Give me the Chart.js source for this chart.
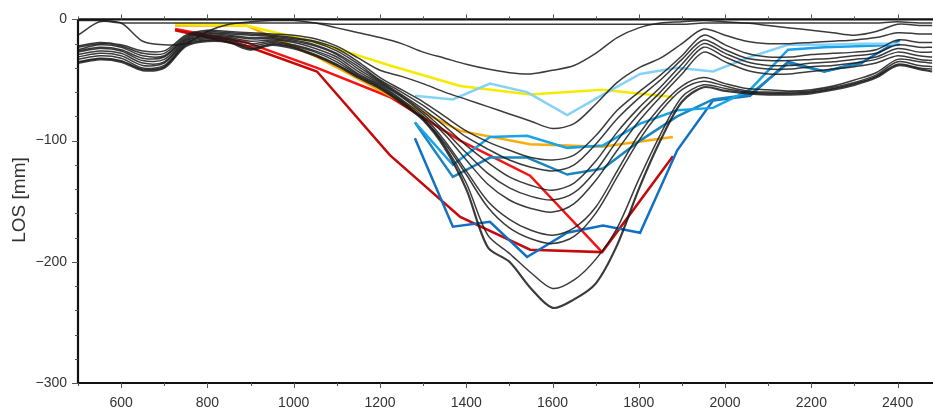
<!DOCTYPE html>
<html><head><meta charset="utf-8">
<script src="https://cdn.jsdelivr.net/npm/chart.js@4/dist/chart.umd.min.js"></script>
<style>html,body{margin:0;padding:0;background:#fff;}canvas{display:block;}</style>
</head><body>
<canvas id="c" width="933" height="408"></canvas>
<script>
// profile distance positions for the black (time-series) profiles
const profileX = [500,550,600,650,700,750,800,850,900,950,1000,1050,1100,1150,1200,1250,1300,1350,1400,1450,1500,1550,1600,1650,1700,1750,1800,1850,1900,1950,2000,2050,2100,2150,2200,2250,2300,2350,2400,2450,2480];
const L1  = [-13,-2,-3,-3,-3,-3,-3,-3,-3,-3,-3,-3,-4,-4,-4,-4,-4,-4,-4,-4,-4,-4,-4,-4,-4,-4,-4,-4,-4,-3,-3,-3,-3,-3,-3,-3,-3,-3,-2,-3,-3];
const L2  = [-1,-1,-3,-18,-21,-20,-10,-4,-2,-1,-1,-3,-7,-11,-15,-20,-27,-32,-37,-41,-44,-45,-42,-38,-28,-15,-7,-3,-2,-1,-2,-3,-5,-7,-9,-11,-13,-10,-4,-5,-5];
const L3  = [-22,-19,-21,-26,-26,-13,-9,-10,-11,-12,-13,-16,-22,-32,-42,-47,-53,-60,-66,-72,-78,-84,-90,-86,-70,-52,-40,-32,-20,-8,-13,-18,-20,-20,-19,-18,-17,-15,-11,-12,-12];
const L4  = [-23,-20,-22,-28,-28,-14,-10,-11,-12,-13,-15,-18,-24,-35,-48,-58,-68,-80,-92,-101,-108,-114,-116,-112,-96,-75,-60,-46,-30,-13,-21,-28,-31,-31,-29,-28,-27,-25,-17,-19,-19];
const L5  = [-25,-21,-23,-30,-30,-15,-11,-12,-13,-14,-16,-19,-26,-37,-50,-60,-71,-84,-97,-107,-116,-122,-125,-120,-103,-82,-65,-50,-33,-17,-25,-32,-34,-34,-33,-32,-30,-28,-21,-23,-23];
const L6  = [-26,-23,-25,-32,-31,-16,-12,-13,-15,-15,-17,-21,-28,-39,-51,-62,-74,-88,-104,-118,-130,-137,-141,-135,-117,-93,-73,-56,-37,-20,-28,-35,-38,-38,-36,-35,-33,-31,-24,-27,-27];
const L7  = [-27,-24,-26,-34,-33,-17,-13,-14,-16,-16,-18,-22,-29,-41,-52,-63,-76,-92,-110,-127,-139,-146,-149,-143,-125,-100,-78,-60,-41,-23,-31,-38,-41,-41,-39,-38,-36,-33,-27,-30,-31];
const L8  = [-29,-26,-28,-36,-35,-18,-14,-15,-18,-17,-19,-24,-31,-43,-53,-64,-78,-95,-116,-136,-149,-156,-159,-152,-133,-108,-84,-64,-45,-27,-35,-42,-45,-45,-43,-41,-39,-36,-30,-33,-34];
const L9  = [-31,-28,-30,-38,-36,-19,-15,-16,-20,-18,-21,-26,-33,-45,-54,-66,-80,-100,-125,-150,-165,-174,-178,-172,-155,-125,-95,-72,-55,-48,-53,-57,-58,-59,-58,-55,-50,-44,-33,-35,-36];
const L10 = [-33,-30,-32,-40,-38,-20,-16,-17,-22,-19,-22,-27,-35,-46,-55,-67,-82,-102,-128,-155,-172,-181,-185,-179,-160,-130,-100,-76,-58,-51,-55,-59,-60,-60,-59,-56,-52,-46,-35,-38,-39];
const L11 = [-35,-32,-34,-41,-39,-21,-17,-18,-24,-20,-23,-29,-37,-47,-56,-68,-82,-104,-135,-178,-193,-209,-222,-215,-198,-172,-132,-95,-64,-54,-57,-60,-61,-61,-60,-57,-53,-47,-37,-40,-41];
const L12 = [-36,-33,-35,-42,-40,-22,-18,-19,-25,-21,-24,-30,-38,-48,-57,-69,-83,-106,-140,-188,-200,-222,-238,-231,-218,-186,-140,-100,-68,-56,-59,-61,-62,-62,-61,-58,-54,-48,-38,-41,-43];

// coloured profiles (sparser sampling)
const warmX     = [725,890,1054,1223,1386,1548,1715,1879];
const yellowY   = [-4,-5,-19,-38,-55,-62,-58,-64];
const orangeY   = [-5,-5,-31,-63,-92,-103,-105,-97];
const redX      = [725,890,1054,1223,1386,1548,1715];
const redY      = [-8,-19,-40,-64,-100,-129,-192];
const darkRedY  = [-9,-22,-43,-112,-163,-190,-192,-113];
const blueX     = [1281,1369,1455,1541,1634,1717,1803,1889,1972,2058,2146,2230,2320,2405];
const skyY      = [-63,-66,-53,-60,-79,-62,-45,-40,-43,-31,-21,-21,-20,-20];
const brightY   = [-85,-120,-97,-96,-106,-104,-86,-75,-73,-58,-25,-23,-22,-21];
const tealX     = [1281,1369,1455,1541,1634,1717,1803,1889,1972,2058,2146,2230,2320];
const tealY     = [-85,-130,-114,-114,-128,-123,-100,-80,-66,-62,-36,-43,-36];
const darkBlueY = [-98,-171,-167,-196,-176,-170,-176,-108,-67,-63,-35,-43,-35,-17];

const xTickLabels = [600,800,1000,1200,1400,1600,1800,2000,2200,2400];
const yTickLabels = [-300,-200,-100,0];

function pts(xs, ys){ return xs.map((x,i)=>({x:x, y:ys[i]})); }

const blackLines = [L1,L2,L3,L4,L5,L6,L7,L8,L9,L10,L11,L12];
const datasets = [];
blackLines.forEach((arr,i)=>{
  datasets.push({data: pts(profileX, arr), borderColor: 'rgba(25,25,25,0.85)', borderWidth: i===11 ? 2.2 : 1.5, pointRadius:0, tension:0.3, fill:false});
});
function col(xs, ys, color){ return {data: pts(xs, ys), borderColor: color, borderWidth: 2.5, pointRadius:0, tension:0, fill:false}; }
datasets.push(col(blueX, skyY, '#86d2f6'));
datasets.push(col(blueX, brightY, '#1aa3e6'));
datasets.push(col(tealX, tealY, '#1a86bd'));
datasets.push(col(blueX, darkBlueY, '#1170c4'));
datasets.push(col(warmX, yellowY, '#f5ea00'));
datasets.push(col(warmX, orangeY, '#f9ad0a'));
datasets.push(col(warmX, darkRedY, '#c40a0a'));
datasets.push(col(redX, redY, '#f41414'));

const frame = {
  id: 'frame',
  afterDraw(chart){
    const {ctx, chartArea:a, scales:{x, y}} = chart;
    ctx.save();
    ctx.strokeStyle = '#111';
    ctx.lineWidth = 2.2;
    ctx.beginPath();
    ctx.moveTo(a.left, a.top); ctx.lineTo(a.left, a.bottom); ctx.lineTo(a.right, a.bottom);
    ctx.moveTo(a.left, a.top); ctx.lineTo(a.right, a.top);
    ctx.stroke();
    ctx.lineWidth = 1;
    ctx.strokeStyle = '#555';
    ctx.beginPath();
    for (let v = 500; v <= 2480; v += 100){
      const px = Math.round(x.getPixelForValue(v)) + 0.5;
      const len = (v % 200 === 0) ? 5 : 3;
      ctx.moveTo(px, a.bottom); ctx.lineTo(px, a.bottom + len);
      ctx.moveTo(px, a.top); ctx.lineTo(px, a.top - len);
    }
    for (let v = -300; v <= 0; v += 20){
      const py = Math.round(y.getPixelForValue(v)) + 0.5;
      const len = (v % 100 === 0) ? 6 : 3;
      ctx.moveTo(a.left, py); ctx.lineTo(a.left - len, py);
    }
    ctx.stroke();
    ctx.fillStyle = '#333';
    ctx.font = '19px "Liberation Sans", Arial, sans-serif';
    ctx.textAlign = 'center'; ctx.textBaseline = 'middle';
    ctx.translate(20, 200); ctx.rotate(-Math.PI/2);
    ctx.fillText('LOS [mm]', 0, 0);
    ctx.restore();
  }
};

new Chart(document.getElementById('c'), {
  type: 'line',
  data: { datasets },
  options: {
    responsive: false, animation: false, devicePixelRatio: 1,
    layout: { padding: { top: 19, right: 0, left: 0, bottom: 0 } },
    plugins: { legend: {display:false}, tooltip: {enabled:false} },
    scales: {
      x: {
        type: 'linear', min: 500, max: 2482,
        afterFit(s){ s.height = 25; },
        afterBuildTicks(s){ s.ticks = xTickLabels.map(v=>({value:v})); },
        grid: { display: false, drawTicks: false },
        border: { display: false },
        ticks: { padding: 12, maxRotation: 0, autoSkip: false, color: '#333', font: {family: '"Liberation Sans", Arial, sans-serif', size: 14}, callback: v => String(v) }
      },
      y: {
        type: 'linear', min: -300, max: 0,
        afterFit(s){ s.width = 78; },
        afterBuildTicks(s){ s.ticks = yTickLabels.map(v=>({value:v})); },
        grid: { display: false, drawTicks: false },
        border: { display: false },
        ticks: { padding: 11, color: '#333', font: {family: '"Liberation Sans", Arial, sans-serif', size: 14}, callback: v => v === 0 ? '0' : '\u2212' + Math.abs(v) }
      }
    }
  },
  plugins: [frame]
});
</script>
</body></html>
